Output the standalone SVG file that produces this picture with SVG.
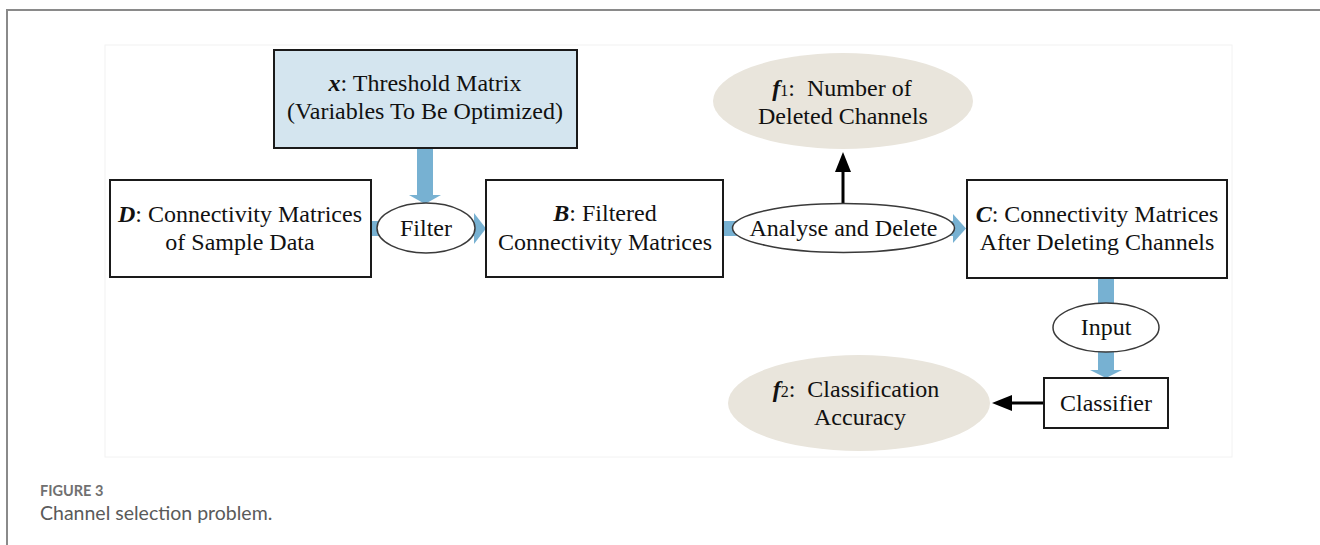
<svg xmlns="http://www.w3.org/2000/svg" width="1320" height="545" viewBox="0 0 1320 545">
  <style>
    .box { fill: #ffffff; stroke: #1a1a1a; stroke-width: 2; }
    .param { fill: #d4e5ef; stroke: #1a1a1a; stroke-width: 2; }
    .op { fill: #ffffff; stroke: #3a3a3a; stroke-width: 1.5; }
    .obj { fill: #e9e5dc; stroke: none; }
    .t { font-family: "Liberation Serif", "Times New Roman", serif; font-size: 24px; fill: #111111; text-anchor: middle; }
    .v { font-weight: bold; font-style: italic; }
    .sub { font-size: 16px; }
    .blue { fill: #77b1d2; stroke: none; }
    .black { stroke: #000000; stroke-width: 3; fill: none; }
    .cap1 { font-family: Lato, "Open Sans", sans-serif; font-size: 14.5px; font-weight: bold; fill: #707070; }
    .cap2 { font-family: Lato, "Open Sans", sans-serif; font-size: 19.5px; fill: #5a5a5a; }
  </style>
  <defs>
    <marker id="ah" markerUnits="userSpaceOnUse" markerWidth="20" markerHeight="16" viewBox="0 0 20 16" refX="1" refY="8" orient="auto">
      <path d="M0,0 L20,8 L0,16 z" fill="#000000"/>
    </marker>
  </defs>
  <rect width="1320" height="545" fill="#ffffff"/>
  <!-- card frame -->
  <path d="M7,545 L7,10 L1320,10" fill="none" stroke="#8a8a8a" stroke-width="2"/>
  <!-- faint image area -->
  <rect x="105" y="45" width="1127" height="412" fill="none" stroke="#f2f2f2" stroke-width="1"/>

  <g id="connectors">
    <!-- threshold to filter -->
    <rect class="blue" x="417" y="148" width="16" height="48"/>
    <polygon class="blue" points="409,195 441,195 425,204"/>
    <!-- D to filter -->
    <rect class="blue" x="371" y="221" width="12" height="15"/>
    <!-- filter to B -->
    <rect class="blue" x="468" y="221" width="8" height="15"/>
    <polygon class="blue" points="474,213 474,244 486,228.5"/>
    <!-- B to analyse -->
    <rect class="blue" x="723" y="221" width="14" height="15"/>
    <!-- analyse to C -->
    <rect class="blue" x="947" y="221" width="8" height="15"/>
    <polygon class="blue" points="953,214 953,243 966,228.5"/>
    <!-- C to input -->
    <rect class="blue" x="1098" y="278" width="16" height="28"/>
    <!-- input to classifier -->
    <rect class="blue" x="1098" y="350" width="16" height="21"/>
    <polygon class="blue" points="1090,370 1122,370 1106,378"/>
    <!-- analyse to f1 -->
    <line class="black" x1="843" y1="204" x2="843" y2="171" marker-end="url(#ah)"/>
    <!-- classifier to f2 -->
    <line class="black" x1="1044" y1="403" x2="1011" y2="403" marker-end="url(#ah)"/>
  </g>

  <g id="node-x">
    <rect class="param" x="274" y="50" width="303" height="98"/>
    <text class="t" x="425" y="91"><tspan class="v">x</tspan>: Threshold Matrix</text>
    <text class="t" x="425" y="119">(Variables To Be Optimized)</text>
  </g>

  <g id="node-D">
    <rect class="box" x="110" y="180" width="261" height="97"/>
    <text class="t" x="240" y="222"><tspan class="v">D</tspan>: Connectivity Matrices</text>
    <text class="t" x="240" y="250">of Sample Data</text>
  </g>

  <g id="node-filter">
    <ellipse class="op" cx="426" cy="228" rx="49" ry="25"/>
    <text class="t" x="426" y="236">Filter</text>
  </g>

  <g id="node-B">
    <rect class="box" x="486" y="180" width="237" height="97"/>
    <text class="t" x="605" y="221"><tspan class="v">B</tspan>: Filtered</text>
    <text class="t" x="605" y="250">Connectivity Matrices</text>
  </g>

  <g id="node-analyse">
    <ellipse class="op" cx="843.5" cy="228" rx="111" ry="24.5"/>
    <text class="t" x="843.5" y="236">Analyse and Delete</text>
  </g>

  <g id="node-f1">
    <ellipse class="obj" cx="843" cy="101" rx="130" ry="48"/>
    <text class="t" x="842" y="96"><tspan class="v">f</tspan><tspan class="sub">1</tspan>:&#160; Number of</text>
    <text class="t" x="843" y="124">Deleted Channels</text>
  </g>

  <g id="node-C">
    <rect class="box" x="967" y="180" width="260" height="98"/>
    <text class="t" x="1097" y="222"><tspan class="v">C</tspan>: Connectivity Matrices</text>
    <text class="t" x="1097" y="250">After Deleting Channels</text>
  </g>

  <g id="node-input">
    <ellipse class="op" cx="1106" cy="327.5" rx="53" ry="24.5"/>
    <text class="t" x="1106" y="335">Input</text>
  </g>

  <g id="node-classifier">
    <rect class="box" x="1044" y="378" width="124" height="50"/>
    <text class="t" x="1106" y="411">Classifier</text>
  </g>

  <g id="node-f2">
    <ellipse class="obj" cx="859" cy="403" rx="131" ry="48"/>
    <text class="t" x="856" y="397"><tspan class="v">f</tspan><tspan class="sub">2</tspan>:&#160; Classification</text>
    <text class="t" x="860" y="425">Accuracy</text>
  </g>

  <g id="caption">
    <text class="cap1" x="40" y="496">FIGURE 3</text>
    <text class="cap2" x="40" y="520">Channel selection problem.</text>
  </g>
</svg>
